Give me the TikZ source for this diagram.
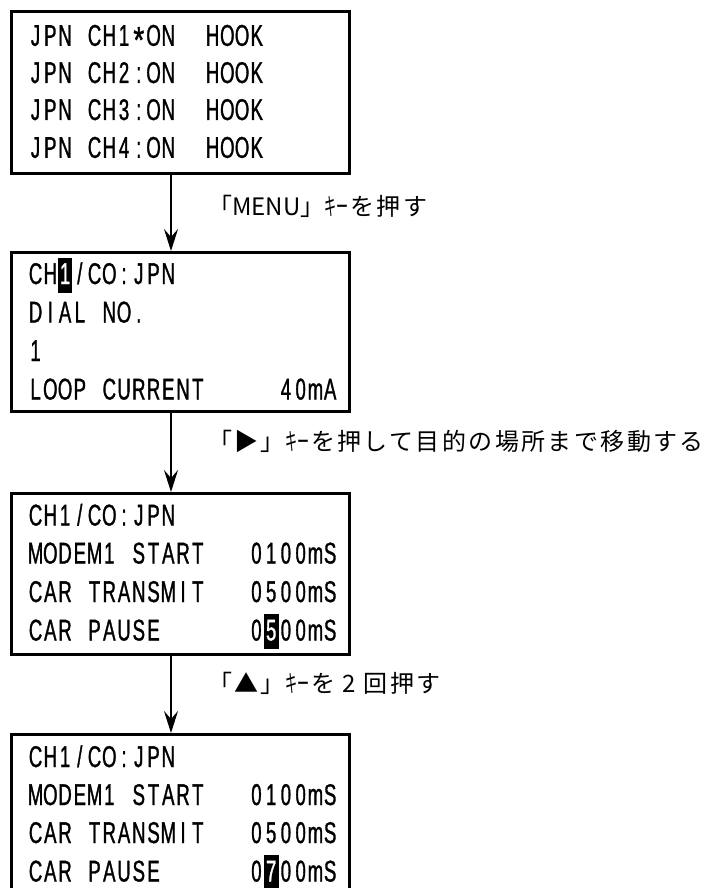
\documentclass[tikz,border=0pt]{standalone}
\usepackage{fontspec}
\usepackage{graphicx}
\usetikzlibrary{arrows.meta}
\newfontfamily\lcdfont{Liberation Sans}[FakeStretch=0.62,FakeBold=1]
\newfontfamily\jpfont{Noto Sans CJK JP}[LetterSpace=10]
\newfontfamily\jplat{Noto Sans CJK JP}
\newlength\lcdcell \setlength\lcdcell{14.75pt}
\makeatletter
\newcommand\lcdrow[1]{{\lcdfont\fontsize{30pt}{32pt}\selectfont\@tfor\lcd@c:=#1\do{\makebox[\lcdcell][c]{\lcd@c}}}}
\makeatother
\newcommand\hlc[1]{\rlap{\rule[-8.5pt]{\lcdcell}{35pt}}\makebox[\lcdcell][c]{\color{white}#1}}
\newcommand\lcdast{\raisebox{-7pt}{\scalebox{1.5}[1.25]{*}}}
\newcommand\kii{\scalebox{0.5}[1]{\jplat キー}\hspace{2pt}}
\tikzset{
  box/.style={draw, line width=3pt, anchor=north west, minimum width=338pt, inner sep=0pt},
  lrow/.style={inner sep=0pt, anchor=base west},
  rrow/.style={inner sep=0pt, anchor=base east},
  lab/.style={inner sep=0pt, anchor=west, font=\jpfont\fontsize{24pt}{26pt}\selectfont},
  arr/.style={line width=2pt, -{Stealth[length=22pt,width=14pt,inset=8pt]}}
}
\begin{document}
\begin{tikzpicture}[x=1pt,y=-1pt]
\path[use as bounding box] (0,0) rectangle (716,888);
\clip (0,0) rectangle (716,888);
% boxes
\node[box, minimum height=162pt] (b1) at (10,10) {};
\node[box, minimum height=159pt] (b2) at (10,251) {};
\node[box, minimum height=161pt] (b3) at (10,492) {};
\node[box, minimum height=160pt] (b4) at (10,733) {};
% box 1
\node[lrow] (b1r1) at (28,45.8) {\lcdrow{JPN\ CH1\lcdast ON}};
\node[lrow] (b1r2) at (28,83) {\lcdrow{JPN\ CH2:ON}};
\node[lrow] (b1r3) at (28,120) {\lcdrow{JPN\ CH3:ON}};
\node[lrow] (b1r4) at (28,157.8) {\lcdrow{JPN\ CH4:ON}};
\node[lrow] (b1h1) at (205,45.8) {\lcdrow{HOOK}};
\node[lrow] (b1h2) at (205,83) {\lcdrow{HOOK}};
\node[lrow] (b1h3) at (205,120) {\lcdrow{HOOK}};
\node[lrow] (b1h4) at (205,157.8) {\lcdrow{HOOK}};
% box 2
\node[lrow] (b2r1) at (28,284) {\lcdrow{CH{\hlc{1}}/CO:JPN}};
\node[lrow] (b2r2) at (28,322.5) {\lcdrow{DIAL\ NO.}};
\node[lrow] (b2r3) at (28,361) {\lcdrow{1}};
\node[lrow] (b2r4) at (28,399.5) {\lcdrow{LOOP\ CURRENT}};
\node[rrow] (b2v4) at (337.75,399.5) {\lcdrow{40mA}};
% box 3
\node[lrow] (b3r1) at (28,525.5) {\lcdrow{CH1/CO:JPN}};
\node[lrow] (b3r2) at (28,563.5) {\lcdrow{MODEM1\ START}};
\node[lrow] (b3r3) at (28,602) {\lcdrow{CAR\ TRANSMIT}};
\node[lrow] (b3r4) at (28,640.5) {\lcdrow{CAR\ PAUSE}};
\node[rrow] (b3v2) at (337.75,563.5) {\lcdrow{0100mS}};
\node[rrow] (b3v3) at (337.75,602) {\lcdrow{0500mS}};
\node[rrow] (b3v4) at (337.75,640.5) {\lcdrow{0{\hlc{5}}00mS}};
% box 4
\node[lrow] (b4r1) at (28,767) {\lcdrow{CH1/CO:JPN}};
\node[lrow] (b4r2) at (28,805) {\lcdrow{MODEM1\ START}};
\node[lrow] (b4r3) at (28,843) {\lcdrow{CAR\ TRANSMIT}};
\node[lrow] (b4r4) at (28,881.5) {\lcdrow{CAR\ PAUSE}};
\node[rrow] (b4v2) at (337.75,805) {\lcdrow{0100mS}};
\node[rrow] (b4v3) at (337.75,843) {\lcdrow{0500mS}};
\node[rrow] (b4v4) at (337.75,881.5) {\lcdrow{0{\hlc{7}}00mS}};
% arrows
\coordinate (ax) at (171,0);
\draw[arr] (b1.south -| ax) -- (b2.north -| ax);
\draw[arr] (b2.south -| ax) -- (b3.north -| ax);
\draw[arr] (b3.south -| ax) -- (b4.north -| ax);
% labels
\node[lab] (l1) at (208,206) {「{\jplat MENU}」\kii を押す};
\node[lab] (l2) at (208,441) {「▶」\kii を押して目的の場所まで移動する};
\node[lab] (l3) at (208,683) {「▲」\kii を {\jplat 2} 回押す};
\end{tikzpicture}
\end{document}
